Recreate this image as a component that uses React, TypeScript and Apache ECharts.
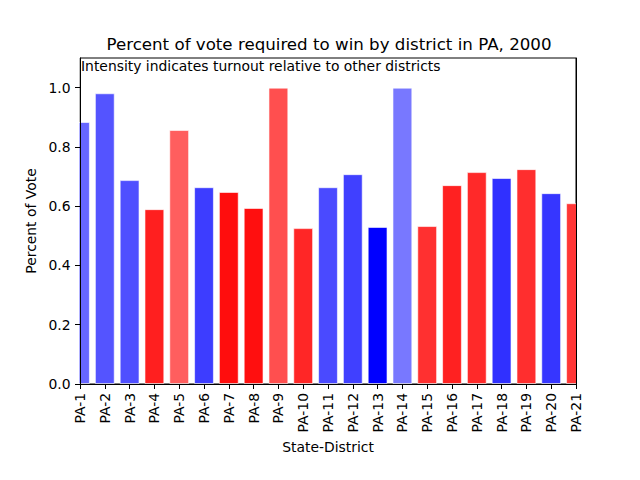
import React, { useEffect, useRef } from "react";
import * as echarts from "echarts";

const categories = ["PA-1","PA-2","PA-3","PA-4","PA-5","PA-6","PA-7","PA-8","PA-9","PA-10","PA-11","PA-12","PA-13","PA-14","PA-15","PA-16","PA-17","PA-18","PA-19","PA-20","PA-21"];
const values = [0.884,0.981,0.688,0.590,0.857,0.664,0.648,0.594,1.0,0.526,0.664,0.708,0.530,1.0,0.533,0.671,0.715,0.695,0.725,0.644,0.610];
const party = ["D","D","D","R","R","D","R","R","R","R","D","D","D","D","R","R","R","D","R","D","R"];
const intensity = [0.60,0.67,0.69,0.88,0.63,0.76,0.95,0.94,0.69,0.85,0.71,0.75,1.0,0.53,0.81,0.87,0.84,0.81,0.82,0.79,0.79];
const yTicks = [0, 0.2, 0.4, 0.6, 0.8, 1.0];

function barColor(p: string, a: number) {
  const v = Math.round(255 * (1 - a));
  return p === "D" ? `rgb(${v},${v},255)` : `rgb(255,${v},${v})`;
}

export default function App() {
  const ref = useRef<HTMLDivElement>(null);
  useEffect(() => {
    const chart = echarts.init(ref.current!, null, { renderer: "svg" });
    const font = "DejaVu Sans";
    const fs = 13.9;
    const L = 80, R = 64, T = 58, B = 96;
    chart.setOption({
      animation: false,
      textStyle: { fontFamily: font },
      title: {
        text: "Percent of vote required to win by district in PA, 2000",
        left: 324, top: 31, textAlign: "center",
        textStyle: { fontFamily: font, fontSize: 16.67, fontWeight: "normal", color: "#000" },
      },
      graphic: [
        { type: "rect", z: 10, silent: true, shape: { x: 0, y: T, width: L - 0.5, height: 480 - T - B }, style: { fill: "#fff" } },
        { type: "rect", z: 10, silent: true, shape: { x: 640 - R + 0.5, y: T, width: R, height: 480 - T - B }, style: { fill: "#fff" } },
        {
          type: "text", left: 81, top: 59, z: 30,
          style: { text: "Intensity indicates turnout relative to other districts", font: `${fs}px ${font}`, fill: "#000" },
        },
      ],
      grid: { left: L, right: R, top: T, bottom: B, show: true, borderColor: "#000", borderWidth: 1, backgroundColor: "transparent" },
      xAxis: [{
        type: "category", data: categories, boundaryGap: false, z: 20,
        axisLine: { lineStyle: { color: "#000" } },
        axisTick: { alignWithLabel: true, length: 5, lineStyle: { color: "#000" } },
        axisLabel: { rotate: 90, color: "#000", fontSize: fs, fontFamily: font, margin: 9, interval: 0 },
        name: "State-District", nameLocation: "middle", nameGap: 51,
        nameTextStyle: { color: "#000", fontSize: fs, fontFamily: font },
      }, {
        type: "category", data: categories, boundaryGap: false, position: "top", z: 20,
        axisLine: { show: true, lineStyle: { color: "#000" } },
        axisTick: { show: false }, axisLabel: { show: false },
      }],
      yAxis: [{
        type: "value", min: 0, max: 1.1, z: 20,
        splitLine: { show: false },
        axisLine: { show: true, lineStyle: { color: "#000" } },
        axisTick: { show: true, length: 5, lineStyle: { color: "#000" }, customValues: yTicks },
        axisLabel: { color: "#000", fontSize: fs, fontFamily: font, margin: 9.5, customValues: yTicks, formatter: (v: number) => v.toFixed(1) },
        name: "Percent of Vote", nameLocation: "middle", nameGap: 34, nameRotate: 90,
        nameTextStyle: { color: "#000", fontSize: fs, fontFamily: font },
      }, {
        type: "value", min: 0, max: 1.1, position: "right", z: 20,
        splitLine: { show: false },
        axisLine: { show: true, lineStyle: { color: "#000" } },
        axisTick: { show: false }, axisLabel: { show: false },
      }],
      series: [{
        type: "bar", barWidth: "80%", xAxisIndex: 0, yAxisIndex: 0,
        data: values.map((v, i) => ({
          value: v,
          itemStyle: { color: barColor(party[i], intensity[i]), borderColor: "rgba(255,255,255,0.6)", borderWidth: 1 },
        })),
      }],
    });
    return () => chart.dispose();
  }, []);
  return <div ref={ref} style={{ width: 640, height: 480, marginLeft: -8, marginTop: -8 }} />;
}
